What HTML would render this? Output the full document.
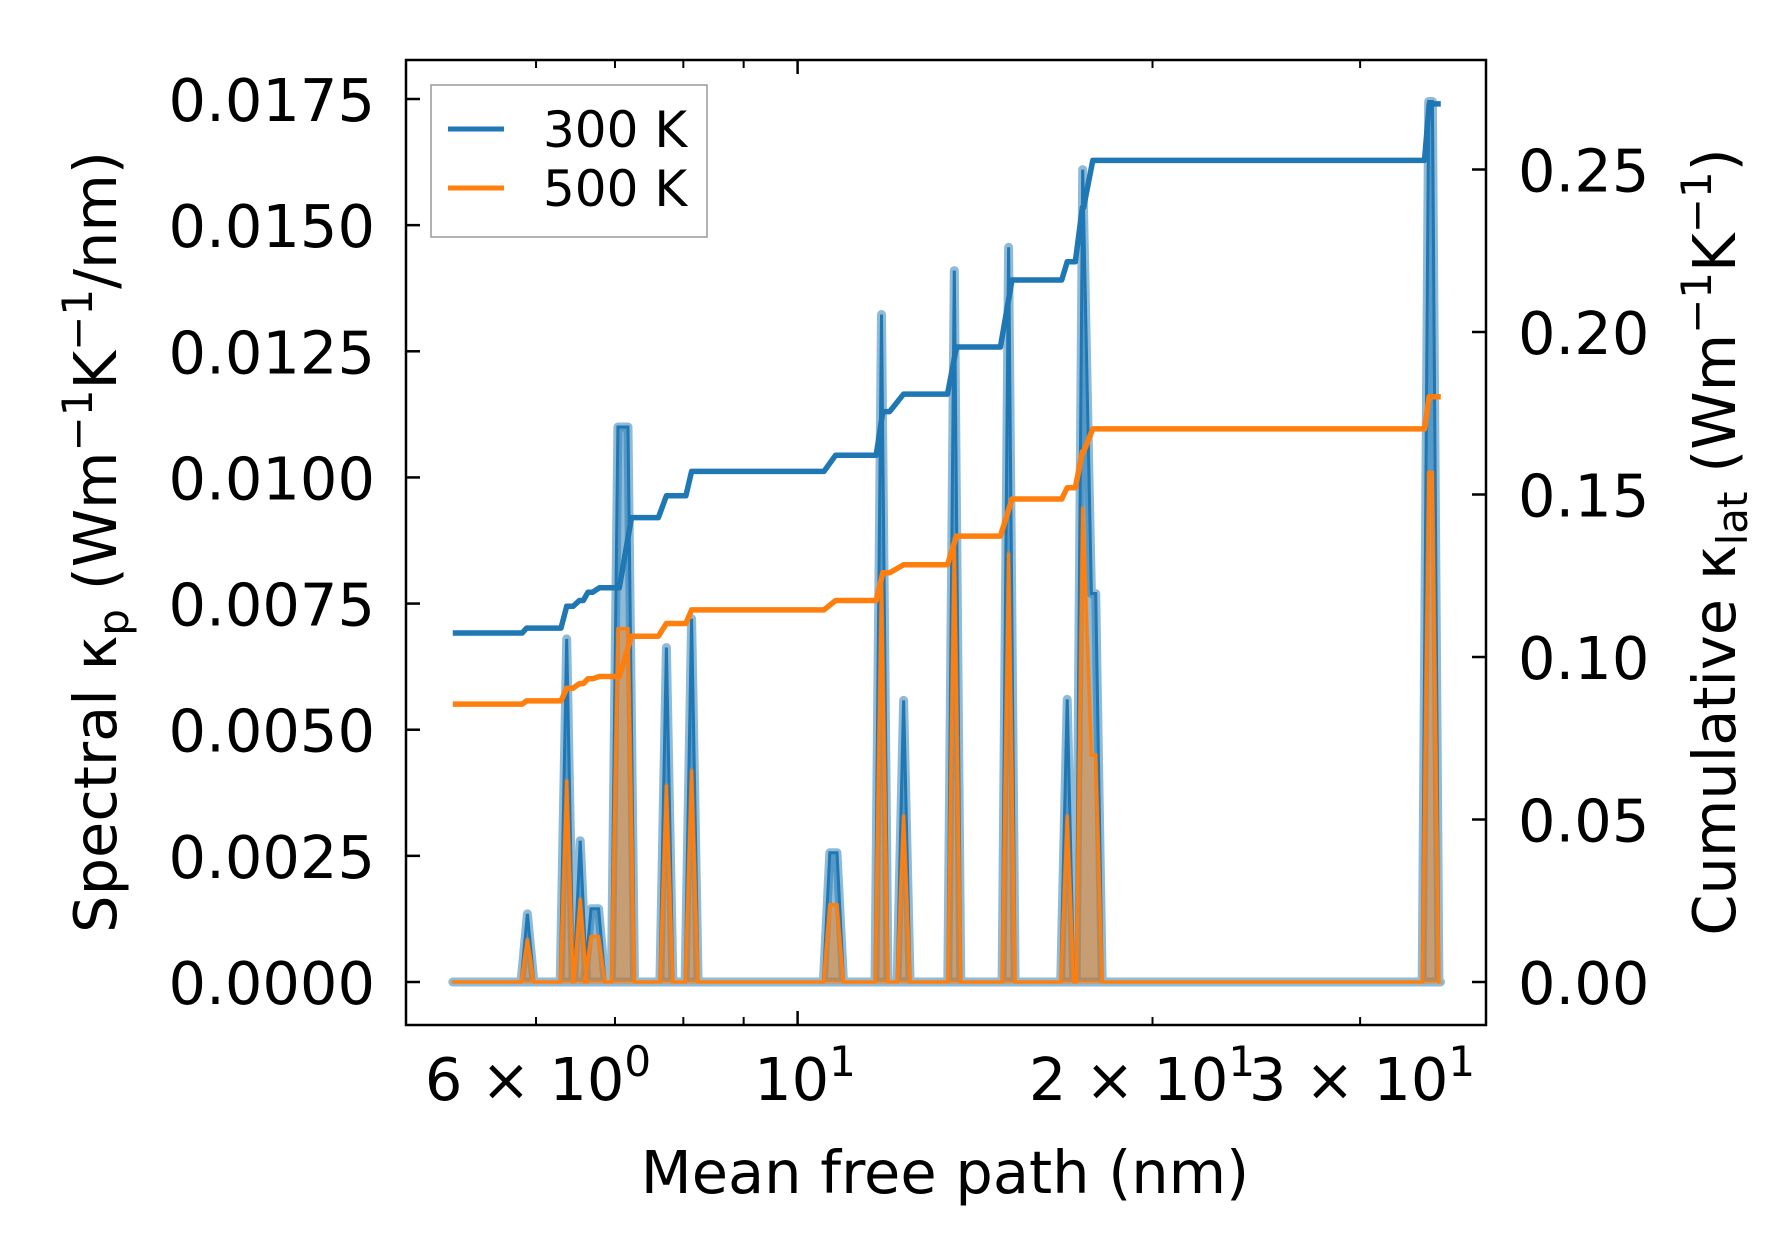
<!DOCTYPE html>
<html><head><meta charset="utf-8"><style>
html,body{margin:0;padding:0;background:#fff}
svg{display:block;font-family:"DejaVu Sans","Liberation Sans",sans-serif}
</style></head><body>
<svg id="chart" width="1790" height="1253" viewBox="0 0 1790 1253" xmlns="http://www.w3.org/2000/svg">
<g id="marks"></g>
<g id="axes"></g>
</svg>
<script>
// ---- data ----
const peakX   = [5.90, 6.37, 6.54, 6.68, 6.78, 7.04, 7.18, 7.74, 8.13, 10.65, 10.80, 11.78, 12.30, 13.58, 15.10, 16.93, 17.45, 17.75, 17.90, 34.30, 34.55];
const peak300 = [0.00135, 0.0068, 0.0028, 0.00145, 0.00145, 0.0110, 0.0110, 0.00663, 0.0072, 0.00256, 0.00256, 0.01323, 0.00558, 0.0141, 0.01456, 0.0056, 0.0161, 0.0077, 0.0077, 0.01745, 0.01745];
const peak500 = [0.00085, 0.0040, 0.00165, 0.0009, 0.0009, 0.0070, 0.0070, 0.0039, 0.0042, 0.00153, 0.00153, 0.0080, 0.0033, 0.0088, 0.0085, 0.0033, 0.0094, 0.0045, 0.0045, 0.0101, 0.0101];
const xMin = 5.10, xMax = 35.1;
const levelStart = [5.10, 5.89, 6.37, 6.53, 6.64, 6.79, 7.23, 7.74, 8.13, 10.77, 11.81, 12.30, 13.64, 15.20, 16.93, 17.44, 17.80, 34.33];
const levelEnd   = [5.84, 6.30, 6.45, 6.58, 6.70, 7.06, 7.62, 8.04, 10.53, 11.66, 11.97, 13.40, 14.86, 16.75, 17.20, 17.48, 34.02, 35.12];
const cum300 = [0.1074, 0.1089, 0.1156, 0.1174, 0.1199, 0.1213, 0.1429, 0.1496, 0.1571, 0.1621, 0.1755, 0.1809, 0.1954, 0.2160, 0.2216, 0.2383, 0.2528, 0.2702];
const cum500 = [0.0855, 0.0865, 0.0904, 0.0918, 0.0933, 0.0940, 0.1064, 0.1103, 0.1145, 0.1174, 0.1259, 0.1284, 0.1372, 0.1486, 0.1521, 0.1631, 0.1702, 0.1801];
const leftTicks = [0, 0.0025, 0.005, 0.0075, 0.01, 0.0125, 0.015, 0.0175];
const leftTickLabels = ["0.0000","0.0025","0.0050","0.0075","0.0100","0.0125","0.0150","0.0175"];
const rightTicks = [0, 0.05, 0.10, 0.15, 0.20, 0.25];
const rightTickLabels = ["0.00","0.05","0.10","0.15","0.20","0.25"];
const xMinorTicks = [6, 7, 8, 9, 20, 30];
const xMajorTicks = [10];

// ---- axes ----
const L = 406, R = 1486, T = 60, B = 1025;
const X = v => 797.6 + 1179 * Math.log10(v / 10);
const YL = v => 982 - v * 50457;
const YR = v => 982 - v * 3250;
const NS = "http://www.w3.org/2000/svg";
const marks = document.getElementById('marks');
const axes = document.getElementById('axes');
function mk(tag, attrs, parent) {
  const e = document.createElementNS(NS, tag);
  for (const k in attrs) e.setAttribute(k, attrs[k]);
  parent.appendChild(e);
  return e;
}

function spectralPts(vals) {
  const w = 0.0055, merge = 0.009;
  const pts = [[X(xMin), YL(0)]];
  for (let i = 0; i < peakX.length; i++) {
    const lx = Math.log10(peakX[i]);
    const prevClose = i > 0 && lx - Math.log10(peakX[i - 1]) < merge;
    const nextClose = i < peakX.length - 1 && Math.log10(peakX[i + 1]) - lx < merge;
    if (!prevClose) pts.push([X(Math.pow(10, lx - w)), YL(0)]);
    pts.push([X(peakX[i]), YL(vals[i])]);
    if (!nextClose) pts.push([X(Math.pow(10, lx + w)), YL(0)]);
  }
  pts.push([X(xMax), YL(0)]);
  return pts.map(p => p[0].toFixed(1) + ',' + p[1].toFixed(1)).join(' ');
}
const p300 = spectralPts(peak300), p500 = spectralPts(peak500);

let e;
e = mk('polygon', {points: p300, fill: '#1f77b4', 'fill-opacity': 0.5, stroke: '#1f77b4', 'stroke-opacity': 0.5, 'stroke-width': 9, 'stroke-linejoin': 'round'}, marks);


e = mk('polyline', {points: p300, fill: 'none', stroke: '#1f77b4', 'stroke-width': 3}, marks);


e = mk('polygon', {points: p500, fill: '#ff7f0e', 'fill-opacity': 0.5, stroke: '#ff7f0e', 'stroke-opacity': 0.5, 'stroke-width': 4, 'stroke-linejoin': 'round'}, marks);


e = mk('polyline', {points: p500, fill: 'none', stroke: '#ff7f0e', 'stroke-width': 3}, marks);



function cumPts(vals) {
  const pts = [];
  for (let i = 0; i < vals.length; i++) {
    pts.push(X(levelStart[i]).toFixed(1) + ',' + YR(vals[i]).toFixed(1));
    pts.push(X(levelEnd[i]).toFixed(1) + ',' + YR(vals[i]).toFixed(1));
  }
  return pts.join(' ');
}
e = mk('polyline', {points: cumPts(cum300), fill: 'none', stroke: '#1f77b4', 'stroke-width': 5.5, 'stroke-linejoin': 'round'}, marks);


e = mk('polyline', {points: cumPts(cum500), fill: 'none', stroke: '#ff7f0e', 'stroke-width': 5.5, 'stroke-linejoin': 'round'}, marks);



// frame
e = mk('rect', {x: L, y: T, width: R - L, height: B - T, fill: 'none', stroke: '#000', 'stroke-width': 2.5}, axes);



leftTicks.forEach((v, i) => {
  const y = YL(v);
  let t = mk('line', {x1: L, x2: L + 14, y1: y, y2: y, stroke: '#000', 'stroke-width': 2.5}, axes);
  
  
  t = mk('text', {x: 375, y: y + 22, 'text-anchor': 'end', 'font-size': 59}, axes);
  t.textContent = leftTickLabels[i];
  
  
});
rightTicks.forEach((v, i) => {
  const y = YR(v);
  let t = mk('line', {x1: R - 14, x2: R, y1: y, y2: y, stroke: '#000', 'stroke-width': 2.5}, axes);
  
  
  t = mk('text', {x: 1518, y: y + 22, 'text-anchor': 'start', 'font-size': 59}, axes);
  t.textContent = rightTickLabels[i];
  
  
});
xMinorTicks.forEach(v => {
  const x = X(v);
  let t = mk('line', {x1: x, x2: x, y1: B, y2: B - 8, stroke: '#000', 'stroke-width': 2}, axes);
  
  
  t = mk('line', {x1: x, x2: x, y1: T, y2: T + 8, stroke: '#000', 'stroke-width': 2}, axes);
  
  
});
xMajorTicks.forEach(v => {
  const x = X(v);
  let t = mk('line', {x1: x, x2: x, y1: B, y2: B - 14, stroke: '#000', 'stroke-width': 2.5}, axes);
  
  
  t = mk('line', {x1: x, x2: x, y1: T, y2: T + 14, stroke: '#000', 'stroke-width': 2.5}, axes);
  
  
});
</script>
<svg style="position:absolute;left:0;top:0" width="1790" height="1253" viewBox="0 0 1790 1253" xmlns="http://www.w3.org/2000/svg" font-family="DejaVu Sans, Liberation Sans, sans-serif">
  <g font-size="59" text-anchor="middle">
    <text x="538" y="1100">6 × 10<tspan font-size="42" dy="-24">0</tspan></text>
    <text x="805" y="1100">10<tspan font-size="42" dy="-24">1</tspan></text>
    <text x="1142" y="1100">2 × 10<tspan font-size="42" dy="-24">1</tspan></text>
    <text x="1362" y="1100">3 × 10<tspan font-size="42" dy="-24">1</tspan></text>
    <text x="945" y="1193">Mean free path (nm)</text>
    <text transform="translate(116,542) rotate(-90)">Spectral κ<tspan font-size="42" dy="12">p</tspan><tspan dy="-12"> (Wm</tspan><tspan font-size="42" dy="-24">−1</tspan><tspan dy="24">K</tspan><tspan font-size="42" dy="-24">−1</tspan><tspan dy="24">/nm)</tspan></text>
    <text transform="translate(1735,542) rotate(-90)">Cumulative κ<tspan font-size="42" dy="12">lat</tspan><tspan dy="-12"> (Wm</tspan><tspan font-size="42" dy="-24">−1</tspan><tspan dy="24">K</tspan><tspan font-size="42" dy="-24">−1</tspan><tspan dy="24">)</tspan></text>
  </g>
  <g>
    <rect x="431" y="85" width="276" height="152" fill="#fff" fill-opacity="0.8" stroke="#999" stroke-width="1.5"/>
    <line x1="448" x2="504" y1="129" y2="129" stroke="#1f77b4" stroke-width="5"/>
    <text x="543" y="147" font-size="50">300 K</text>
    <line x1="448" x2="504" y1="188" y2="188" stroke="#ff7f0e" stroke-width="5"/>
    <text x="543" y="206" font-size="50">500 K</text>
  </g>
</svg>
</body></html>
